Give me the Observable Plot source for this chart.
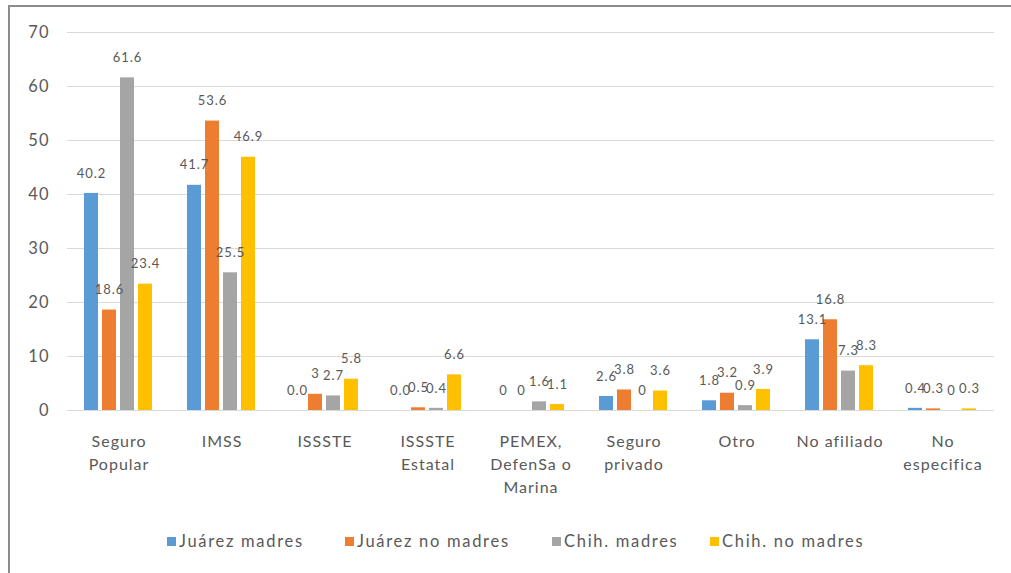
<!DOCTYPE html>
<html><head><meta charset="utf-8">
<script src="https://cdn.jsdelivr.net/npm/d3@7"></script>
<script src="https://cdn.jsdelivr.net/npm/@observablehq/plot@0.6"></script>
<style>
body{margin:0;background:#fff;font-family:Lato,"Open Sans",sans-serif;}
#wrap{position:relative;width:1011px;height:573px;overflow:hidden;background:#fff}
#frame{position:absolute;left:8px;top:5px;width:1100px;height:700px;border-left:2px solid #8c8c8c;border-top:2px solid #8c8c8c;z-index:2;pointer-events:none}
#chart{position:absolute;left:0;top:0}
#chart svg text{letter-spacing:1px}
#legend{position:absolute;top:531px;left:0;width:1011px;height:22px;font-size:16.5px;color:#595959;font-family:Lato,sans-serif;white-space:nowrap;letter-spacing:1.7px}
#legend .item{position:absolute;top:0;display:flex;align-items:center}
#legend .sw{width:9px;height:9px;margin-right:3px}
</style>
</head><body>
<div id="wrap"><div id="frame"></div><div id="chart"></div><div id="legend"></div></div>
<script>
const categories = ["Seguro Popular","IMSS","ISSSTE","ISSSTE Estatal","PEMEX, DefenSa o Marina","Seguro privado","Otro","No afiliado","No especifica"];
const tickLabels = ["Seguro\nPopular","IMSS","ISSSTE","ISSSTE\nEstatal","PEMEX,\nDefenSa o\nMarina","Seguro\nprivado","Otro","No afiliado","No\nespecifica"];
const series = ["Juárez madres","Juárez no madres","Chih. madres","Chih. no madres"];
const colors = ["#5B9BD5","#ED7D31","#A5A5A5","#FFC000"];
const juarezMadres   = [40.2, 41.7, 0.0, 0.0, 0, 2.6, 1.8, 13.1, 0.4];
const juarezNoMadres = [18.6, 53.6, 3,   0.5, 0, 3.8, 3.2, 16.8, 0.3];
const chihMadres     = [61.6, 25.5, 2.7, 0.4, 1.6, 0, 0.9, 7.3, 0];
const chihNoMadres   = [23.4, 46.9, 5.8, 6.6, 1.1, 3.6, 3.9, 8.3, 0.3];
const labelsJM  = ["40.2","41.7","0.0","0.0","0","2.6","1.8","13.1","0.4"];
const labelsJNM = ["18.6","53.6","3","0.5","0","3.8","3.2","16.8","0.3"];
const labelsCM  = ["61.6","25.5","2.7","0.4","1.6","0","0.9","7.3","0"];
const labelsCNM = ["23.4","46.9","5.8","6.6","1.1","3.6","3.9","8.3","0.3"];
const yTicks = [0,10,20,30,40,50,60,70];

const values = [juarezMadres, juarezNoMadres, chihMadres, chihNoMadres];
const labels = [labelsJM, labelsJNM, labelsCM, labelsCNM];
const data = [];
categories.forEach((c, i) => series.forEach((s, j) => data.push({cat: c, series: s, value: values[j][i], label: labels[j][i]})));
const tickMap = new Map(categories.map((c, i) => [c, tickLabels[i]]));

const chart = Plot.plot({
  width: 1011,
  height: 520,
  marginTop: 32,
  marginBottom: 110,
  marginLeft: 65,
  marginRight: 15,
  style: {fontFamily: "Lato, 'Open Sans', sans-serif", color: "#595959", background: "transparent"},
  fx: {domain: categories, padding: 0, label: null},
  x: {domain: series, paddingInner: 0.2, paddingOuter: 0.9, axis: null},
  y: {domain: [0, 70], label: null},
  color: {domain: series, range: colors},
  marks: [
    Plot.ruleY(yTicks, {stroke: "#d9d9d9", strokeWidth: 1}),
    Plot.axisY({ticks: yTicks, tickSize: 0, tickPadding: 18, fontSize: 16.5, fill: "#595959", label: null}),
    Plot.axisFx({anchor: "bottom", tickSize: 0, tickPadding: 20, fontSize: 16, lineHeight: 1.45, fill: "#595959", tickFormat: d => tickMap.get(d), label: null}),
    Plot.barY(data, {fx: "cat", x: "series", y: "value", fill: "series"}),
    Plot.text(data, {fx: "cat", x: "series", y: "value", text: "label", dy: -20, fontSize: 13, fill: "#595959"})
  ]
});
document.getElementById("chart").appendChild(chart);

const legendLeft = [167, 345, 552, 710];
const legend = document.getElementById("legend");
series.forEach((s, j) => {
  const it = document.createElement("div"); it.className = "item"; it.style.left = legendLeft[j] + "px";
  const sw = document.createElement("div"); sw.className = "sw"; sw.style.background = colors[j];
  const tx = document.createElement("span"); tx.textContent = s;
  it.appendChild(sw); it.appendChild(tx); legend.appendChild(it);
});
</script>
</body></html>
